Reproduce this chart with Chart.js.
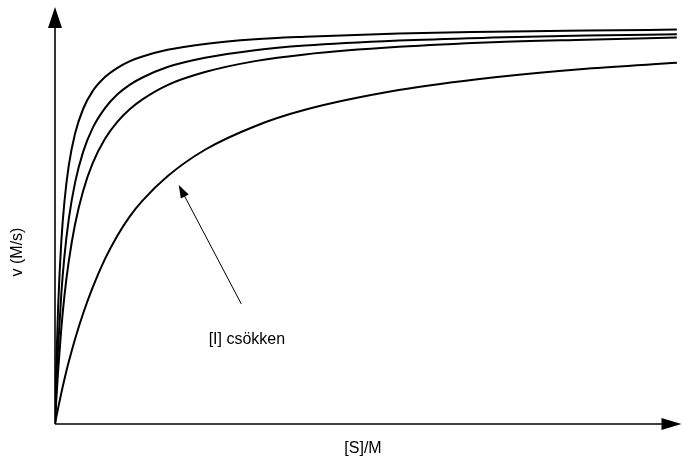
<!DOCTYPE html>
<html>
<head>
<meta charset="utf-8">
<script src="https://cdn.jsdelivr.net/npm/chart.js@4/dist/chart.umd.min.js"></script>
<style>
html,body{margin:0;padding:0;background:#fff;}
canvas{display:block;}
</style>
</head>
<body>
<canvas id="c" width="682" height="463"></canvas>
<script>
// substrate concentration [S] (arbitrary units, 0-100)
const substrate = [0, 0.2, 0.5, 1, 1.5, 2.2, 3.2, 4.5, 6, 8, 10, 12, 14, 18, 24, 32, 40, 55, 70, 85, 99.5];
// reaction rate v for four inhibitor levels (arbitrary units, 0-100)
const vCurve1 = [0, 13.6, 27.8, 43.2, 52.8, 61.5, 69.1, 75.0, 79.2, 82.6, 84.8, 86.4, 87.5, 89.1, 90.5, 91.6, 92.2, 93.0, 93.4, 93.7, 93.9];
const vCurve2 = [0, 8.3, 18.2, 30.8, 39.8, 48.7, 57.4, 64.8, 70.4, 75.2, 78.5, 80.8, 82.5, 85.0, 87.2, 89.0, 90.1, 91.3, 92.0, 92.5, 92.8];
const vCurve3 = [0, 5.6, 12.7, 22.6, 30.4, 38.7, 47.5, 55.5, 62.0, 67.9, 72.0, 75.0, 77.3, 80.7, 83.8, 86.4, 88.0, 89.8, 90.9, 91.5, 92.0];
const vCurve4 = [0, 1.6, 3.8, 7.3, 10.6, 14.8, 20.2, 26.3, 32.4, 39.3, 44.9, 49.5, 53.2, 59.0, 65.3, 70.9, 74.8, 79.5, 82.5, 84.6, 86.0];

const xTitle = '[S]/M';
const yTitle = 'v (M/s)';
const noteText = '[I] csökken';
// annotation arrow in data units
const noteTail = {x: 29.8, y: 28.6};
const noteTip = {x: 19.8, y: 56.9};
const noteLabel = {x: 30.7, y: 20};

const series = [vCurve1, vCurve2, vCurve3, vCurve4];

function arrowHead(ctx, tx, ty, angle, len, half) {
  ctx.save();
  ctx.translate(tx, ty);
  ctx.rotate(angle);
  ctx.beginPath();
  ctx.moveTo(0, 0);
  ctx.lineTo(-len, -half);
  ctx.lineTo(-len, half);
  ctx.closePath();
  ctx.fill();
  ctx.restore();
}

const decorPlugin = {
  id: 'decor',
  afterDraw(chart) {
    const ctx = chart.ctx;
    const xs = chart.scales.x, ys = chart.scales.y;
    const ca = chart.chartArea;
    const ox = xs.getPixelForValue(0), oy = ys.getPixelForValue(0);
    ctx.save();
    ctx.strokeStyle = '#000';
    ctx.fillStyle = '#000';
    ctx.lineWidth = 1.6;
    // y axis
    const yTip = ca.top + 3;
    ctx.beginPath();
    ctx.moveTo(ox, oy);
    ctx.lineTo(ox, yTip + 18);
    ctx.stroke();
    arrowHead(ctx, ox, yTip, -Math.PI / 2, 21, 7);
    // x axis
    const xTip = ca.right + 1.5;
    ctx.beginPath();
    ctx.moveTo(ox, oy);
    ctx.lineTo(xTip - 18, oy);
    ctx.stroke();
    arrowHead(ctx, xTip, oy, 0, 20, 6);

    // annotation arrow
    const tx = xs.getPixelForValue(noteTail.x), ty = ys.getPixelForValue(noteTail.y);
    const hx = xs.getPixelForValue(noteTip.x), hy = ys.getPixelForValue(noteTip.y);
    const ang = Math.atan2(hy - ty, hx - tx);
    ctx.lineWidth = 1;
    ctx.beginPath();
    ctx.moveTo(tx, ty);
    ctx.lineTo(hx - Math.cos(ang) * 10, hy - Math.sin(ang) * 10);
    ctx.stroke();
    arrowHead(ctx, hx, hy, ang, 13, 4.5);

    // texts
    ctx.textAlign = 'center';
    ctx.textBaseline = 'middle';
    ctx.font = '16px "Liberation Sans", Arial, sans-serif';
    ctx.fillText(noteText, xs.getPixelForValue(noteLabel.x), ys.getPixelForValue(noteLabel.y));

    ctx.font = '16px "Liberation Sans", Arial, sans-serif';
    ctx.fillText(xTitle, 363, oy + 25);
    ctx.save();
    ctx.translate(18, 252);
    ctx.rotate(-Math.PI / 2);
    ctx.fillText(yTitle, 0, 0);
    ctx.restore();
    ctx.restore();
  }
};

new Chart(document.getElementById('c'), {
  type: 'line',
  data: {
    datasets: series.map((vals, i) => ({
      label: 'curve ' + (i + 1),
      data: substrate.map((s, j) => ({x: s, y: vals[j]})),
      borderColor: '#000',
      borderWidth: 2,
      pointRadius: 0,
      fill: false,
      cubicInterpolationMode: 'monotone'
    }))
  },
  options: {
    responsive: false,
    animation: false,
    devicePixelRatio: 1,
    layout: {padding: {left: 55, right: 2, top: 4, bottom: 39}},
    scales: {
      x: {type: 'linear', min: 0, max: 100, display: false},
      y: {type: 'linear', min: 0, max: 100, display: false}
    },
    plugins: {legend: {display: false}, tooltip: {enabled: false}}
  },
  plugins: [decorPlugin]
});
</script>
</body>
</html>
